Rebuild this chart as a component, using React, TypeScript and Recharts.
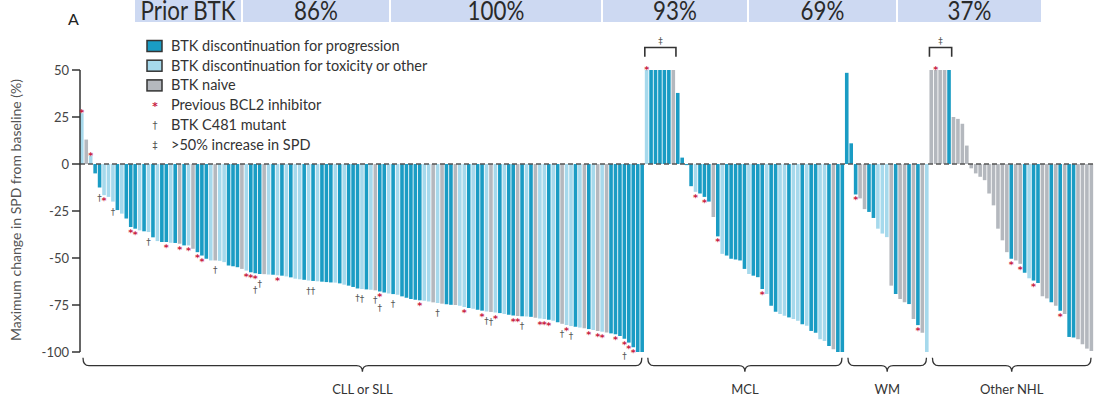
import React from 'react';
import { BarChart, Bar, XAxis, YAxis, Cell, ReferenceLine, ReferenceArea, LabelList } from 'recharts';

// values (% change in SPD), one entry per patient
const cllValues = [
  27, 13, 4.5, -5, -12.5, -16.6, -17.5, -20, -24.5, -26.4,
  -29, -33.5, -34.4, -35.3, -35.8, -36.2, -39, -41, -41.5, -41.5,
  -41.9, -42, -42.4, -43.3, -43.3, -45.1, -46.9, -48.7, -50.4, -51.3,
  -51.3, -51.5, -52.2, -54, -54.4, -54.9, -55.8, -56.7, -57.6, -58.1,
  -58.5, -58.6, -58.8, -58.9, -59.2, -59.4, -59.8, -60.3, -61, -61.3,
  -61.6, -62, -62.2, -62.4, -62.6, -62.8, -63, -63.1, -63.5, -64.2,
  -64.7, -65.4, -66.2, -66.5, -66.7, -66.9, -67.2, -67.8, -68.3, -68.9,
  -69.2, -69.6, -70.4, -71.1, -71.8, -72.2, -72.5, -72.8, -73.2, -73.6,
  -74, -74.3, -74.6, -74.9, -75, -75.4, -76, -76.6, -77, -77.5,
  -78, -78.4, -78.7, -79, -79.3, -79.8, -80.2, -80.6, -80.8, -81,
  -81.1, -81.3, -81.8, -82.2, -82.5, -82.8, -83.4, -84.2, -85, -85.6,
  -86.2, -86.6, -87, -87.4, -87.8, -88.3, -88.8, -89.2, -89.6, -90.1,
  -90.5, -91.5, -93, -95, -97.5, -100, -100,
];
// p = discontinuation for progression, t = toxicity or other, n = BTK naive
const cllTypes = (
  'tntpptttptppptptptpp' + 'tpnptnppptnttpppntpp' + 'pntptptpttptptppptpt' +
  'ppptptnpptptpppppttn' + 'tnppnttptpptntptppnp' + 'tpnttptpnttptnptntnpppppppp'
).split('');
const cllStars = [0, 2, 5, 11, 12, 19, 22, 24, 26, 27, 37, 38, 39, 44, 67, 76, 86, 90, 93, 97, 98, 103, 104, 105, 109, 114, 116, 117, 120, 122, 123, 124];
const cllDaggers = [4, 7, 15, 30, 39, 40, 51, 52, 62, 63, 66, 67, 70, 80, 91, 92, 99, 108, 110, 122];

const mclValues = [
  50, 50, 50, 50, 50, 50, 50, 37.8, 3.4, -0.6,
  -11.8, -14.8, -15.7, -17.5, -20, -28.2, -38.5, -47.8, -48.7, -50.4,
  -50.8, -51.3, -55.8, -58.5, -59.4, -60.2, -66.5, -69.2, -75.4, -78.6,
  -79.8, -80.7, -81.6, -82.5, -83.4, -85.2, -86.1, -88.8, -89.7, -93.2,
  -94.1, -96.8, -98.6, -100, -100,
];
const mclTypes = (
  'tppppp' + 'npppp' + 'tppp' + 'npt' + 'ppppp' + 't' + 'ppp' + 't' + 'pp' + 'tt' +
  'p' + 'tt' + 'p' + 't' + 'pp' + 'tt' + 'p' + 'n' + 'pp'
).split('');
const mclStars = [0, 11, 13, 16, 26];
const mclDaggers: number[] = [];

const wmValues = [48.5, 11, -16.2, -18.3, -24, -25.5, -28.7, -34.4, -37, -38.9, -64.7, -69.2, -71.8, -73.6, -74.5, -82.5, -85.7, -89.7, -100];
const wmTypes = 'pppnnpptttnpnnpnpnt'.split('');
const wmStars = [2, 16];
const wmDaggers: number[] = [];

const nhlValues = [
  50, 50, 50, 50, 50, 25, 24, 21.4, 9.8, -2.3,
  -5, -6.8, -8.6, -15.7, -22, -34.4, -40.6, -46.9, -50.4, -51.3,
  -53.1, -57.9, -60.8, -62, -63.3, -70.4, -71.5, -73.6, -75.4, -78,
  -79.8, -92, -92.3, -93.2, -95.9, -98.2, -99.5,
];
const nhlTypes = 'nnnnpnnnnnnnnnnnnnpnnptppnnpnpnppnnnn'.split('');
const nhlStars = [1, 18, 20, 23, 29];
const nhlDaggers: number[] = [];

const headerCells = ['Prior BTK', '86%', '100%', '93%', '69%', '37%'];
const yTicks = [50, 25, 0, -25, -50, -75, -100];

const COLORS: Record<string, string> = { p: '#1a9cc4', t: '#a6d9ec', n: '#b4b8be' };
const STAR = '#c8203f';
const SYMBOL_FONT = 'DejaVu Sans';

const groups = [
  { name: 'CLL or SLL', values: cllValues, types: cllTypes, stars: cllStars, daggers: cllDaggers, bracket: false },
  { name: 'MCL', values: mclValues, types: mclTypes, stars: mclStars, daggers: mclDaggers, bracket: true },
  { name: 'WM', values: wmValues, types: wmTypes, stars: wmStars, daggers: wmDaggers, bracket: false },
  { name: 'Other NHL', values: nhlValues, types: nhlTypes, stars: nhlStars, daggers: nhlDaggers, bracket: true },
];

type Row = { id: string; value: number; type: string; mark: string };
const data: Row[] = [];
const spans: { name: string; first: string; last: string; bracketEnd: string | null }[] = [];
groups.forEach((g, gi) => {
  g.values.forEach((v, i) => {
    const mark = (g.stars.includes(i) ? '*' : '') + (g.daggers.includes(i) ? '†' : '');
    data.push({ id: `${gi}-${i}`, value: v, type: g.types[i] || 'p', mark });
  });
  // the "‡" bracket covers the leading run of bars capped at +50
  let run = 0;
  while (g.bracket && run < g.values.length && g.values[run] >= 50) run++;
  spans.push({
    name: g.name,
    first: `${gi}-0`,
    last: `${gi}-${g.values.length - 1}`,
    bracketEnd: run > 0 ? `${gi}-${run - 1}` : null,
  });
});

const renderMark = (props: any) => {
  const d = data[props.index];
  if (!d || !d.mark) return null;
  const vb = props.viewBox || {};
  const x = props.x ?? vb.x;
  const y = props.y ?? vb.y;
  const w = props.width ?? vb.width;
  const h = props.height ?? vb.height;
  const cx = x + w / 2;
  const hasStar = d.mark.includes('*');
  const hasDagger = d.mark.includes('†');
  if (d.value >= 0) {
    const top = Math.min(y, y + h);
    return (
      <text x={cx} y={top + 3} textAnchor="middle" fontSize={9.5} fontWeight={700} fill={STAR} fontFamily={SYMBOL_FONT}>*</text>
    );
  }
  const end = Math.max(y, y + h);
  return (
    <g>
      {hasStar && (
        <text x={cx} y={end + 9} textAnchor="middle" fontSize={9.5} fontWeight={700} fill={STAR} fontFamily={SYMBOL_FONT}>*</text>
      )}
      {hasDagger && (
        <text x={cx} y={end + (hasStar ? 20 : 13)} textAnchor="middle" fontSize={9} fill="#555" fontFamily={SYMBOL_FONT}>†</text>
      )}
    </g>
  );
};

const braceShape = (name: string) => (props: any) => {
  const { x, y, width } = props;
  const x0 = x + 3;
  const x1 = x + width - 3;
  const xm = (x0 + x1) / 2;
  const t = y;
  const d = `M${x0},${t} Q${x0},${t + 8} ${x0 + 6},${t + 8} L${xm - 6},${t + 8} Q${xm},${t + 8} ${xm},${t + 14} Q${xm},${t + 8} ${xm + 6},${t + 8} L${x1 - 6},${t + 8} Q${x1},${t + 8} ${x1},${t}`;
  return (
    <g>
      <path d={d} fill="none" stroke="#333" strokeWidth={1.3} />
      <text x={xm} y={t + 36} textAnchor="middle" fontSize={13} fill="#333" fontFamily="Lato">{name}</text>
    </g>
  );
};

const bracketShape = (props: any) => {
  const { x, y, width, height } = props;
  return (
    <g>
      <path d={`M${x},${y + height} L${x},${y} L${x + width},${y} L${x + width},${y + height}`} fill="none" stroke="#333" strokeWidth={1.6} />
      <text x={x + width / 2} y={y - 3} textAnchor="middle" fontSize={9} fill="#555" fontFamily={SYMBOL_FONT}>‡</text>
    </g>
  );
};

const headerX = [135, 243, 391, 603, 749, 898, 1043];

const legendRows = [
  { kind: 'box', color: COLORS.p, label: 'BTK discontinuation for progression' },
  { kind: 'box', color: COLORS.t, label: 'BTK discontinuation for toxicity or other' },
  { kind: 'box', color: COLORS.n, label: 'BTK naive' },
  { kind: 'star', color: STAR, label: 'Previous BCL2 inhibitor' },
  { kind: 'dagger', color: '#555', label: 'BTK C481 mutant' },
  { kind: 'ddagger', color: '#555', label: '>50% increase in SPD' },
];

function App() {
  return (
    <div style={{ position: 'absolute', left: 0, top: 0, width: 1094, height: 401, background: '#fff', fontFamily: 'Lato, sans-serif', overflow: 'hidden' }}>
      <BarChart width={1094} height={401} data={data} margin={{ top: 70, right: 0, bottom: 49, left: 0 }}>
        <XAxis dataKey="id" hide />
        <YAxis
          width={80}
          type="number"
          domain={[-100, 50]}
          ticks={yTicks}
          interval={0}
          tickSize={8}
          tickMargin={3}
          axisLine={{ stroke: '#333', strokeWidth: 1.5 }}
          tickLine={{ stroke: '#333', strokeWidth: 1.5 }}
          tick={{ fontSize: 13, fill: '#444', fontFamily: 'Lato' }}
        />
        <Bar dataKey="value" barSize={3.6} isAnimationActive={false}>
          {data.map((d) => (
            <Cell key={d.id} fill={COLORS[d.type]} />
          ))}
          <LabelList dataKey="mark" content={renderMark} />
        </Bar>
        <ReferenceLine y={0} stroke="#555" strokeWidth={1.3} strokeDasharray="5 3" />
        {spans.map((s) => (
          <ReferenceArea key={s.name} x1={s.first} x2={s.last} y1={-103} y2={-113} ifOverflow="visible" shape={braceShape(s.name)} />
        ))}
        {spans.filter((s) => s.bracketEnd).map((s) => (
          <ReferenceArea key={s.name + '-b'} x1={s.first} x2={s.bracketEnd as string} y1={57} y2={62} ifOverflow="visible" shape={bracketShape} />
        ))}
      </BarChart>

      <svg width={1094} height={401} style={{ position: 'absolute', left: 0, top: 0, pointerEvents: 'none' }}>
        {headerCells.map((c, i) => {
          const cx = (headerX[i] + headerX[i + 1] - 2) / 2;
          return (
            <g key={c}>
              <rect x={headerX[i]} y={-10} width={headerX[i + 1] - headerX[i] - 2} height={32} fill="#cdd9f2" />
              <text transform={`translate(${cx},20) scale(0.86,1)`} textAnchor="middle" fontSize={26} fill="#2a2a2a" fontFamily="Lato">{c}</text>
            </g>
          );
        })}
        <text x={68} y={25} fontSize={16} fill="#222" fontFamily="Lato">A</text>
        {legendRows.map((r, i) => {
          const cy = 46 + i * 19.7;
          return (
            <g key={r.label}>
              {r.kind === 'box' && <rect x={147} y={cy - 5.5} width={15} height={11} fill={r.color} stroke="#333" strokeWidth={1.5} />}
              {r.kind === 'star' && <text x={155} y={cy + 5} textAnchor="middle" fontSize={10.5} fontWeight={700} fill={r.color} fontFamily={SYMBOL_FONT}>*</text>}
              {r.kind === 'dagger' && <text x={155} y={cy + 4} textAnchor="middle" fontSize={10} fill={r.color} fontFamily={SYMBOL_FONT}>†</text>}
              {r.kind === 'ddagger' && <text x={155} y={cy + 4} textAnchor="middle" fontSize={10} fill={r.color} fontFamily={SYMBOL_FONT}>‡</text>}
              <text x={171} y={cy + 5} fontSize={14.5} fill="#333" fontFamily="Lato">{r.label}</text>
            </g>
          );
        })}
        <text transform="translate(21,210) rotate(-90)" textAnchor="middle" fontSize={14} fill="#555" fontFamily="Lato">
          Maximum change in SPD from baseline (%)
        </text>
      </svg>
    </div>
  );
}

export default App;
